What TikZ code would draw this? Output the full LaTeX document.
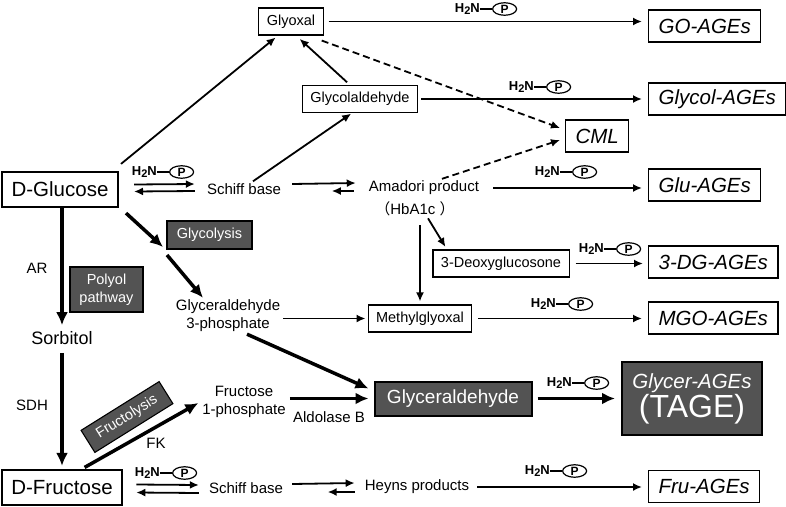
\documentclass[tikz,border=0pt]{standalone}
\usepackage{fontspec}
\setmainfont{Liberation Sans}
\newfontfamily\cjkfont{Noto Sans CJK JP}
\usepackage{tikz}
\usetikzlibrary{shapes, arrows.meta, positioning}
\definecolor{boxgray}{HTML}{535353}

\begin{document}
\begin{tikzpicture}[x=1pt, y=-1pt,
    small/.style={font=\fontsize{15}{18}\selectfont, inner sep=2pt, align=center},
    box/.style={draw, line width=1.1pt, minimum height=27pt, inner xsep=8pt, font=\fontsize{14.5}{17}\selectfont},
    agebox/.style={draw, line width=1.2pt, minimum height=32pt, inner xsep=10pt, anchor=west, font=\fontsize{20.5}{24}\selectfont\itshape},
    sugar/.style={draw, line width=2.2pt, minimum height=35pt, inner xsep=9.5pt, font=\fontsize{20.5}{24}\selectfont},
    darkbox/.style={draw=black, line width=1.1pt, fill=boxgray, text=white, align=center, font=\fontsize{14.5}{18}\selectfont},
    arr/.style={line width=1.8pt, -{Latex[length=9pt,width=8pt]}},
    bigarr/.style={line width=3.5pt, -{Latex[length=13pt,width=12pt]}},
    dasharr/.style={arr, dash pattern=on 7pt off 4pt},
    amine/.pic={
      \node[font=\fontsize{13}{14}\selectfont\bfseries, inner sep=0pt, anchor=east] (-h) at (-7,0) {H\raisebox{-1.5pt}{\fontsize{11}{11}\selectfont 2}N};
      \node[draw, ellipse, line width=1.2pt, inner sep=0pt, minimum width=24pt, minimum height=12.5pt, anchor=west, font=\fontsize{12}{12}\selectfont\bfseries] (-p) at (5,0) {P};
      \draw[line width=1.2pt] (-h.east) -- (-p.west);
    }]
  \useasboundingbox (0,0) rectangle (786,506);

  % sugars
  \node[sugar] (glucose) at (60,189.5) {D-Glucose};
  \node[sugar] (fructose) at (62,487.5) {D-Fructose};

  \begin{scope}[every node/.style={small}]
    \node (schiffA) at (244,189) {Schiff base};
    \node (amadori) at (424,188) {Amadori product};
    \node (hba) at (415,209) {{\cjkfont （}HbA1c {\cjkfont ）}};
    \node (g3p) at (228,316) {Glyceraldehyde\\3-phosphate};
    \node (f1p) at (244,402) {Fructose\\1-phosphate};
    \node (schiffB) at (246,488) {Schiff base};
    \node (heyns) at (417,487) {Heyns products};
    \node[font=\fontsize{18}{20}\selectfont] (sorbitol) at (62,338) {Sorbitol};
    \node (ar) at (37,268) {AR};
    \node (sdh) at (32,405) {SDH};
    \node (fk) at (156,443) {FK};
    \node (aldo) at (329,417) {Aldolase B};
  \end{scope}

  \begin{scope}[every node/.style={box}]
    \node (glyoxal) at (291,21.5) {Glyoxal};
    \node (glycolald) at (360,99) {Glycolaldehyde};
    \node (deoxy) at (501,263.5) {3-Deoxyglucosone};
    \node (methyl) at (420,318.5) {Methylglyoxal};
  \end{scope}

  \begin{scope}[every node/.style={agebox}]
    \node (goage) at (648,26) {GO-AGEs};
    \node (glycolage) at (648,99) {Glycol-AGEs};
    \node (cml) at (565,136) {CML};
    \node (gluage) at (648,185) {Glu-AGEs};
    \node (dgage) at (648,262) {3-DG-AGEs};
    \node (mgoage) at (648,318) {MGO-AGEs};
    \node (fruage) at (648,486.5) {Fru-AGEs};
  \end{scope}

  % grey boxes
  \node[darkbox, minimum width=85pt, minimum height=28pt] (glycolysis) at (209.5,235) {Glycolysis};
  \node[darkbox, minimum width=73pt, minimum height=45pt] (polyol) at (106.5,289.5) {Polyol\\pathway};
  \node[darkbox, minimum width=92pt, minimum height=26pt, rotate=32] (fructolysis) at (127,417) {Fructolysis};
  \node[darkbox, line width=2pt, minimum width=157pt, minimum height=34pt, font=\fontsize{19}{22}\selectfont] (glyald) at (453,398.5) {Glyceraldehyde};
  \node[darkbox, line width=2pt, minimum width=140pt, minimum height=73pt, font=\fontsize{20.5}{30}\selectfont] (tage) at (692,398.5) {\itshape Glycer-AGEs\\[-1pt]\fontsize{32}{32}\selectfont(TAGE)};

  \coordinate (glyin) at (163,247);
  \coordinate (glyout) at (167,255);

  % amino groups of proteins
  \pic (a1) at (164,172) {amine};
  \pic (a2) at (487,9) {amine};
  \pic (a3) at (541,87) {amine};
  \pic (a4) at (567,172) {amine};
  \pic (a5) at (611,249) {amine};
  \pic (a6) at (563,304) {amine};
  \pic (a7) at (579,383) {amine};
  \pic (a8) at (557,471) {amine};
  \pic (a9) at (167,473) {amine};

  \begin{scope}[every edge/.style={draw, arr}]
    \path ([shift={(2,-7)}]glucose.north east) edge[shorten >=3pt] ([xshift=-13]glyoxal.south);
    \path ([xshift=9]schiffA.north) edge[shorten >=1pt] ([xshift=-8]glycolald.south);
    \path ([xshift=-10]glycolald.north) edge[shorten <=4pt, shorten >=5pt] ([xshift=5]glyoxal.south);
    \path (glyoxal.east) edge[shorten <=5pt, shorten >=6pt] (glyoxal.east -| goage.west);
    \path (glycolald.east) edge[shorten <=3pt, shorten >=6pt] (glycolald.east -| glycolage.west);
    \path (amadori.east) edge[shorten <=12pt, shorten >=6pt] (amadori.east -| gluage.west);
    \path (methyl.north |- hba.south) edge[shorten <=7pt, shorten >=3pt] (methyl.north);
    \path ([xshift=13]hba.south) edge[shorten >=3pt] ([xshift=-54]deoxy.north);
    \path (deoxy.east) edge[shorten <=6pt, shorten >=5pt] (deoxy.east -| dgage.west);
    \path (g3p.east |- methyl.west) edge[shorten <=1pt, shorten >=2pt] (methyl.west);
    \path (methyl.east) edge[shorten <=6pt, shorten >=6pt] (methyl.east -| mgoage.west);
    \path (heyns.east) edge[shorten <=6pt, shorten >=6pt] (heyns.east -| fruage.west);
    % equilibria
    \path ([shift={(15,-5)}]glucose.east) edge ([shift={(-10,-5)}]schiffA.west);
    \path ([shift={(-10,2)}]schiffA.west) edge ([shift={(15,2)}]glucose.east);
    \path ([shift={(9,-5)}]schiffA.east) edge ([shift={(-11,-5)}]amadori.west);
    \path ([shift={(-13,3)}]amadori.west) edge ([shift={(-35,3)}]amadori.west);
    \path ([shift={(13,-3)}]fructose.east) edge ([shift={(-8,-3)}]schiffB.west);
    \path ([shift={(-8,5)}]schiffB.west) edge ([shift={(13,5)}]fructose.east);
    \path ([shift={(7,-4)}]schiffB.east) edge ([shift={(-8,-4)}]heyns.west);
    \path ([shift={(-8,5)}]heyns.west) edge ([shift={(-35,5)}]heyns.west);
  \end{scope}

  \begin{scope}[every edge/.style={draw, dasharr}]
    \path ([shift={(-2,5)}]glyoxal.south east) edge ([shift={(-5,-8)}]cml.west);
    \path ([xshift=18]amadori.north) edge ([shift={(-5,4)}]cml.west);
  \end{scope}

  \begin{scope}[every edge/.style={draw, bigarr}]
    \path (glucose.south -| sorbitol.north) edge[shorten >=4pt] (sorbitol.north);
    \path (sorbitol.south) edge[shorten <=6pt, shorten >=3pt] (sorbitol.south |- fructose.north);
    \path ([shift={(7,5)}]glucose.south east) edge (glyin);
    \path (glyout) edge ([xshift=-25]g3p.north);
    \path ([xshift=19]g3p.south) edge ([shift={(-5,-10)}]glyald.west);
    \path (f1p.east |- glyald.west) edge[shorten <=2pt, shorten >=5pt] (glyald.west);
    \path (glyald.east) edge[shorten <=5pt, shorten >=6pt] (tage.west);
    \path ([xshift=20]fructose.north) edge[shorten <=3pt, shorten >=2pt] (f1p.west);
  \end{scope}
\end{tikzpicture}
\end{document}
